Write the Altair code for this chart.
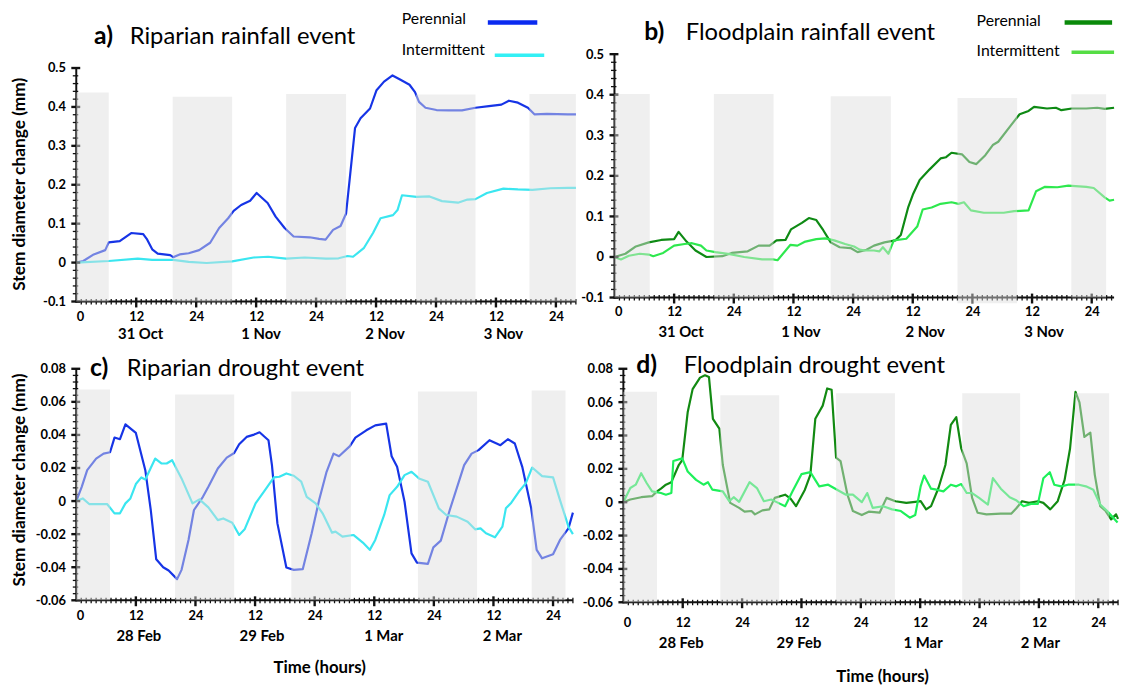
import altair as alt
import pandas as pd
import numpy as np

FONT = "Lato"

# ---------------- Panel a: Riparian rainfall event (hours, mm) ----------------
a_perennial = [(0, 0), (1.4, 0.004), (3.5, 0.021), (5.8, 0.032), (6.5, 0.052), (8.7, 0.055), (11, 0.076),
               (13.4, 0.073), (14.1, 0.061), (15.2, 0.034), (16.3, 0.023), (18.8, 0.019), (19.4, 0.014),
               (20.7, 0.021), (22.5, 0.024), (24.6, 0.032), (26.8, 0.051), (28.6, 0.089), (30.4, 0.114),
               (31.5, 0.133), (33, 0.148), (34.8, 0.159), (36.1, 0.179), (38.3, 0.153), (39.9, 0.118),
               (41.7, 0.089), (43.5, 0.067), (46.7, 0.065), (48.6, 0.061), (49.9, 0.059), (51.4, 0.084),
               (52.9, 0.094), (54, 0.126), (54.7, 0.211), (55.8, 0.346), (56.9, 0.371), (58.8, 0.396),
               (60.1, 0.443), (61.6, 0.465), (63.3, 0.481), (64.9, 0.470), (66.7, 0.457), (67.8, 0.438),
               (68.6, 0.413), (69.9, 0.398), (72.1, 0.392), (74.6, 0.391), (77.2, 0.391), (79.9, 0.398),
               (82.6, 0.402), (85.1, 0.406), (86.6, 0.416), (88.4, 0.411), (90.4, 0.398), (91.7, 0.381),
               (94.2, 0.382), (98.4, 0.381), (100, 0.381)]
a_intermittent = [(0, 0), (6.5, 0.004), (12.3, 0.010), (15.2, 0.007), (19.4, 0.007), (22.5, 0.002),
                  (26.1, -0.001), (31.2, 0.003), (35.5, 0.013), (38.4, 0.015), (42, 0.010), (45.7, 0.013),
                  (50, 0.010), (52.5, 0.011), (54.3, 0.017), (55.4, 0.015), (57.6, 0.038), (59.4, 0.076),
                  (60.9, 0.114), (63.4, 0.122), (64.3, 0.135), (65.2, 0.173), (68.1, 0.169), (70.7, 0.170),
                  (73.2, 0.158), (76.4, 0.154), (78.3, 0.162), (79.9, 0.163), (82.2, 0.179), (85.5, 0.190),
                  (88.4, 0.188), (91.3, 0.187), (94.9, 0.191), (98.4, 0.192), (100, 0.192)]
a_band_start = [0, 19.3, 42, 68, 90.7]
a_band_end = [6.5, 31.2, 54, 79.9, 100]
a_band_top = [0.437, 0.426, 0.433, 0.432, 0.433]
a_band_bottom = [-0.1, -0.1, -0.1, -0.1, -0.1]
a_dates = ["31 Oct", "1 Nov", "2 Nov", "3 Nov"]
a_date_hours = [12.9, 37, 61.8, 85.5]

# ---------------- Panel b: Floodplain rainfall event ----------------
b_perennial = [(0, 0), (2.2, 0.008), (4.3, 0.026), (6.9, 0.036), (9.4, 0.042), (12, 0.044), (12.9, 0.062),
               (14.5, 0.038), (16.3, 0.016), (18.5, 0.000), (21.7, 0.002), (23.6, 0.010), (26.8, 0.014),
               (29, 0.028), (31.2, 0.028), (32.6, 0.041), (34.4, 0.042), (35.5, 0.068), (37.7, 0.084),
               (39.1, 0.096), (40.6, 0.091), (42, 0.066), (43.5, 0.036), (45.3, 0.024), (47.5, 0.022),
               (48.9, 0.012), (50.7, 0.018), (52.2, 0.028), (54.3, 0.036), (56.5, 0.041), (57.6, 0.054),
               (59.1, 0.123), (60.1, 0.156), (61.4, 0.190), (63.4, 0.216), (65.6, 0.243), (66.7, 0.246),
               (67.8, 0.257), (69.9, 0.253), (71.4, 0.234), (72.8, 0.229), (74.6, 0.251), (76.1, 0.276),
               (77.2, 0.284), (79.7, 0.324), (81.5, 0.352), (83.3, 0.360), (84.4, 0.370), (87, 0.366),
               (88.8, 0.368), (89.9, 0.362), (92, 0.366), (94.9, 0.366), (97.1, 0.368), (98.6, 0.365),
               (100.5, 0.368)]
b_intermittent = [(0, 0), (1.3, -0.006), (2.9, 0.003), (5.1, 0.008), (6.9, 0.006), (7.8, 0.002), (9.8, 0.010),
                  (12, 0.028), (14.1, 0.032), (15.6, 0.034), (17.4, 0.028), (18.5, 0.016), (20.3, 0.012),
                  (23.2, 0.007), (26.1, 0.000), (29.7, -0.006), (31.9, -0.006), (32.8, -0.008), (35.4, 0.030),
                  (36.8, 0.028), (38.4, 0.038), (40.6, 0.044), (42.4, 0.046), (44.2, 0.041), (46.4, 0.032),
                  (48.2, 0.026), (49.3, 0.018), (50.4, 0.016), (52.2, 0.016), (53.3, 0.014), (54, 0.024),
                  (55.1, 0.008), (56.2, 0.041), (58.7, 0.045), (60.9, 0.075), (62, 0.117), (63.8, 0.122),
                  (65.6, 0.131), (67.8, 0.135), (69.2, 0.131), (70.3, 0.135), (71.7, 0.115), (74.3, 0.109),
                  (76.8, 0.109), (78.3, 0.109), (80.4, 0.113), (83.3, 0.115), (84.8, 0.162), (86.6, 0.173),
                  (89.1, 0.172), (91.3, 0.176), (94.9, 0.173), (96.4, 0.170), (98.6, 0.147), (99.6, 0.139),
                  (100.5, 0.141)]
b_band_start = [0, 20, 43.5, 69, 91.9]
b_band_end = [7.1, 32, 55.6, 81, 98.9]
b_band_top = [0.402, 0.402, 0.396, 0.392, 0.401]
b_band_bottom = [-0.1, -0.1, -0.1, -0.114, -0.1]
b_dates = ["31 Oct", "1 Nov", "2 Nov", "3 Nov"]
b_date_hours = [13.4, 37.5, 62.5, 86.4]

# ---------------- Panel c: Riparian drought event ----------------
c_perennial = [(0, 0), (1.1, 0.0086), (2.2, 0.0187), (4, 0.0257), (5.5, 0.0287), (6.8, 0.0295), (7.7, 0.0384),
               (8.8, 0.0374), (9.9, 0.0464), (12, 0.0412), (13.9, 0.0187), (15, -0.0054), (16.1, -0.0352),
               (17.5, -0.040), (18.6, -0.042), (20.3, -0.0472), (21.2, -0.0416), (22.6, -0.0235),
               (23.7, -0.0054), (25.5, 0.0026), (26.6, 0.0086), (28.5, 0.0197), (30.3, 0.0263),
               (31.8, 0.0291), (32.8, 0.0344), (34.3, 0.0388), (35.8, 0.0402), (36.9, 0.0416),
               (38.7, 0.0368), (39.4, 0.0217), (40.5, -0.0135), (42.3, -0.0402), (43.8, -0.0416),
               (45.6, -0.0412), (47.4, -0.0195), (48.9, 0.0006), (50.4, 0.0177), (51.8, 0.0287),
               (52.9, 0.0271), (55.1, 0.0332), (56.2, 0.0384), (58.4, 0.0428), (60.2, 0.0458),
               (62.4, 0.0468), (63.5, 0.0271), (64.6, 0.0207), (66.1, -0.0004), (67.5, -0.0316),
               (68.6, -0.0372), (70.8, -0.038), (71.9, -0.028), (73.4, -0.0239), (75.2, -0.0054),
               (78.1, 0.0217), (79.6, 0.0287), (81, 0.0308), (83.2, 0.0368), (85.4, 0.0338), (86.9, 0.0374),
               (88.3, 0.0348), (89.8, 0.0207), (91.6, -0.0044), (92.7, -0.0295), (93.8, -0.0346),
               (96, -0.0322), (97.4, -0.0235), (99.1, -0.0165), (100, -0.007)]
c_intermittent = [(0, 0), (1.3, 0.0016), (2.6, -0.0018), (6.2, -0.0018), (7.7, -0.0074), (8.8, -0.0074),
                  (9.9, -0.0014), (10.9, 0.0016), (12, 0.0103), (13.1, 0.0143), (13.9, 0.0131),
                  (15.9, 0.0257), (17.2, 0.0227), (18.2, 0.0227), (19.3, 0.0247), (21.2, 0.0137),
                  (23.4, -0.0014), (24.8, 0.0010), (26.6, -0.0038), (28.5, -0.0115), (29.6, -0.0105),
                  (31.4, -0.0131), (32.8, -0.0205), (33.9, -0.0171), (36.1, -0.0014), (38, 0.0066),
                  (39.8, 0.0143), (40.9, 0.0147), (42.3, 0.0167), (43.8, 0.0153), (45.3, 0.0117),
                  (46.4, 0.0026), (48.2, -0.0014), (49.6, -0.0074), (51.5, -0.0191), (52.2, -0.0185),
                  (53.6, -0.0215), (55.8, -0.0205), (57.7, -0.0251), (59.1, -0.0295), (60.2, -0.0235),
                  (62, -0.0084), (63.1, 0.0036), (64.6, 0.0086), (66.1, 0.0157), (67.5, 0.0177),
                  (69, 0.0137), (70.8, 0.0117), (73, -0.0044), (74.5, -0.0084), (76.6, -0.0094),
                  (78.8, -0.0125), (80.3, -0.0171), (81.4, -0.0165), (82.5, -0.0195), (84.3, -0.0219),
                  (85.8, -0.0155), (86.5, -0.0044), (87.6, -0.0010), (89.1, 0.0056), (90.5, 0.0107),
                  (91.8, 0.0203), (93.8, 0.0151), (96, 0.0143), (97.4, 0.0006), (99.1, -0.0155),
                  (100, -0.020)]
c_band_start = [0, 19.9, 43.3, 68.8, 91.7]
c_band_end = [6.8, 31.8, 55.3, 80.7, 98.5]
c_band_top = [0.0675, 0.0645, 0.0663, 0.0663, 0.0669]
c_band_bottom = [-0.06, -0.06, -0.06, -0.06, -0.06]
c_dates = ["28 Feb", "29 Feb", "1 Mar", "2 Mar"]
c_date_hours = [12.6, 37.4, 61.9, 85.8]

# ---------------- Panel d: Floodplain drought event ----------------
d_perennial = [(0, 0), (1.4, 0.0016), (3.6, 0.003), (5.8, 0.0036), (6.8, 0.0065), (7.6, 0.0081), (8.6, 0.0105),
               (9.7, 0.012), (11.2, 0.0223), (11.9, 0.0253), (13, 0.0539), (14, 0.0678), (15.5, 0.0747),
               (16.5, 0.0761), (17.3, 0.0751), (18.1, 0.050), (19.4, 0.0441), (20.1, 0.0223),
               (21.6, -0.0004), (23.4, -0.0034), (24.5, -0.0057), (25.9, -0.0053), (26.6, -0.0073),
               (28.1, -0.0049), (29.5, -0.0043), (30.6, 0.0026), (32.7, 0.0045), (33.8, 0.0022),
               (34.9, -0.0024), (36.7, 0.0075), (37.8, 0.0164), (38.8, 0.050), (40.3, 0.0579),
               (41.2, 0.0682), (42.1, 0.0674), (43, 0.0267), (43.9, 0.0247), (45.3, 0.0045),
               (46.4, -0.0053), (48.2, -0.0077), (49.6, -0.0057), (51.8, -0.0063), (53.2, 0.0026),
               (55, 0.0006), (57.2, -0.0004), (59, 0.0002), (60.1, 0.0006), (61.2, -0.0043),
               (62.2, -0.0024), (63.7, 0.0085), (65.1, 0.0223), (66.2, 0.0464), (67.3, 0.051),
               (68.3, 0.0322), (69.4, 0.0233), (70.5, 0.0026), (71.6, -0.0063), (73.4, -0.0073),
               (76.3, -0.0069), (78.4, -0.0069), (79.4, -0.0038), (80.6, 0.0006), (82, -0.0004),
               (83.8, 0.0006), (84.9, -0.0004), (86.3, -0.0043), (87.8, 0.0006), (89.2, 0.0134),
               (90.3, 0.0322), (91.4, 0.0662), (92.2, 0.0599), (93.2, 0.0391), (94.4, 0.0417),
               (95.3, 0.0164), (96.4, -0.0024), (97.5, -0.0053), (98.6, -0.0103), (99.6, -0.0073),
               (100, -0.010)]
d_intermittent = [(0, 0), (1.4, 0.0085), (2.5, 0.0105), (3.6, 0.0174), (4.7, 0.0115), (5.8, 0.0065),
                  (7.6, 0.0055), (8.6, 0.0045), (9.7, 0.0055), (10.1, 0.0247), (11.9, 0.0263), (13, 0.0184),
                  (14.7, 0.0134), (16.2, 0.0105), (17.1, 0.012), (18, 0.0075), (20.1, 0.0065), (21.4, 0.0006),
                  (22.3, 0.003), (23.4, 0.0002), (25.5, 0.012), (27, 0.0085), (28.4, 0.0006), (29.9, 0.0016),
                  (31.3, -0.0004), (32.7, -0.0024), (34.2, 0.0065), (36, 0.0168), (37.8, 0.018),
                  (39.6, 0.0095), (41.4, 0.0105), (43.2, 0.0075), (45, 0.0045), (46.4, 0.0045), (48.2, 0),
                  (49.3, 0.0055), (50.4, -0.0034), (52.5, -0.0024), (54.3, -0.0043), (56.1, -0.0053),
                  (57.9, -0.0093), (59, -0.0077), (60.1, 0.0095), (60.8, 0.016), (62.2, 0.0081),
                  (63.3, 0.0075), (64.7, 0.0065), (66.2, 0.0105), (67.3, 0.0095), (68.3, 0.0109),
                  (69.4, 0.0055), (70.5, 0.0055), (71.9, 0.0026), (73.7, -0.0014), (74.7, 0.0144),
                  (76.3, 0.0081), (78.1, 0.003), (79.5, 0.001), (80.9, -0.0024), (82.4, -0.001),
                  (83.8, -0.001), (84.9, 0.0144), (86.2, 0.018), (87.1, 0.0105), (88.5, 0.0095),
                  (89.9, 0.0105), (92.1, 0.0105), (93.5, 0.0095), (95, 0.0075), (96.4, -0.0014),
                  (97.8, -0.0053), (99.9, -0.0122)]
d_band_start = [0, 19.6, 43, 68.5, 91.3]
d_band_end = [6.8, 31.5, 54.9, 80.2, 98.2]
d_band_top = [0.0662, 0.0642, 0.0654, 0.0654, 0.0654]
d_band_bottom = [-0.06, -0.06, -0.06, -0.06, -0.06]
d_dates = ["28 Feb", "29 Feb", "1 Mar", "2 Mar"]
d_date_hours = [11.7, 35.5, 60.6, 84.3]

x_major = [0, 12, 24, 36, 48, 60, 72, 84, 96]
rain_y_major = [-0.1, 0, 0.1, 0.2, 0.3, 0.4, 0.5]
drought_y_major = [-0.06, -0.04, -0.02, 0, 0.02, 0.04, 0.06, 0.08]

BAND_COLOR = "#dcdcdc"
BAND_OPACITY = 0.47
AXIS_COLOR = "#111111"


def txt(text, x, y, size, weight="normal", align="left", baseline="alphabetic"):
    return alt.Chart(pd.DataFrame({"t": [text]})).mark_text(
        align=align, baseline=baseline, font=FONT, fontSize=size, fontWeight=weight, color="black"
    ).encode(x=alt.value(x), y=alt.value(y), text="t:N")


def swatch(x1, x2, y, color, width):
    return alt.Chart(pd.DataFrame({"a": [0]})).mark_rule(color=color, strokeWidth=width).encode(
        x=alt.value(x1), x2=alt.value(x2), y=alt.value(y))


def segs_to_df(segs):
    rows = []
    for i, (xa, ya, xb, yb) in enumerate(segs):
        rows.append({"id": i, "k": 0, "x": xa, "y": ya})
        rows.append({"id": i, "k": 1, "x": xb, "y": yb})
    return pd.DataFrame(rows)


def panel(per, inter, colors, bands, ydom, yaxis_top, ymajor, ystep, dec, W, H, xmax,
          letter, title, letter_dx, title_dx, title_dy, dates, date_hours, date_dy, xlab_pad,
          ytitle=None, ytitle_dy=0, legend=None, xtitle=None):
    xs = alt.Scale(domain=[0, xmax], nice=False, zero=False)
    ys = alt.Scale(domain=ydom, nice=False, zero=False)
    dx = xmax / W                      # data units per pixel
    dy = (ydom[1] - ydom[0]) / H
    y0 = ydom[0]

    xaxis = alt.Axis(values=x_major, domain=False, ticks=False, grid=False, title="",
                     labelExpr="datum.value == 0 ? '0' : (datum.value % 24 == 0 ? '24' : '12')",
                     labelFont=FONT, labelFontSize=13, labelFontWeight="bold", labelColor="black",
                     labelPadding=xlab_pad)
    ykw = dict(values=ymajor, domain=False, ticks=False, grid=False,
               labelExpr="datum.value == 0 ? '0' : (datum.value < 0 ? '-' : '') + format(abs(datum.value), '.%df')" % dec,
               labelFont=FONT, labelFontSize=13, labelFontWeight="bold", labelColor="black", labelPadding=11)
    if ytitle:
        ykw.update(title=ytitle, titleFont=FONT, titleFontSize=17.5, titleFontWeight="bold", titleColor="black",
                   titleX=-57, titleY=H / 2 + ytitle_dy, titleAngle=270, titleAlign="center",
                   titleBaseline="middle")
    else:
        ykw.update(title="")
    yaxis = alt.Axis(**ykw)

    X = lambda f: alt.X(f, scale=xs, axis=None)
    Y = lambda f: alt.Y(f, scale=ys, axis=None)

    axis_df = pd.DataFrame({"h": [0, xmax], "v": [ydom[0], ydom[1]]})
    axis_layer = alt.Chart(axis_df).mark_point(opacity=0, size=1).encode(
        x=alt.X("h:Q", scale=xs, axis=xaxis), y=alt.Y("v:Q", scale=ys, axis=yaxis))

    per_df = pd.DataFrame(per, columns=["h", "v"])
    int_df = pd.DataFrame(inter, columns=["h", "v"])
    line_per = alt.Chart(per_df).mark_line(strokeWidth=2.2, strokeJoin="round", color=colors[0]).encode(
        x=X("h:Q"), y=Y("v:Q"), order=alt.Order("h:Q"))
    line_int = alt.Chart(int_df).mark_line(strokeWidth=2.2, strokeJoin="round", color=colors[1]).encode(
        x=X("h:Q"), y=Y("v:Q"), order=alt.Order("h:Q"))

    # axis lines and ticks, drawn as short line segments through the scales
    ymin_vals = [round(v, 4) for v in np.arange(ydom[0], yaxis_top + 1e-9, ystep)
                 if min(abs(v - m) for m in ymajor) > 1e-6]
    xmin_vals = [h for h in range(1, int(xmax) + 1) if h % 12 != 0]
    axis_segs = [(0, y0 - dy, 0, yaxis_top), (-dx, y0, xmax, y0)]
    major_segs = [(-5 * dx, t, 4 * dx, t) for t in ymajor] + \
                 [(t, y0 - 6 * dy, t, y0 + 4 * dy) for t in x_major[1:]]
    minor_segs = [(-3.5 * dx, t, 2 * dx, t) for t in ymin_vals] + \
                 [(t, y0 - 3 * dy, t, y0 + 2.5 * dy) for t in xmin_vals]

    def seg_layer(segs, width):
        return alt.Chart(segs_to_df(segs)).mark_line(color=AXIS_COLOR, strokeWidth=width).encode(
            x=X("x:Q"), y=Y("y:Q"), detail="id:N", order=alt.Order("k:Q"))

    axis_lines = seg_layer(axis_segs, 2)
    major_ticks = seg_layer(major_segs, 2.4)
    minor_ticks = seg_layer(minor_segs, 1.3)

    bdf = pd.DataFrame({"s": bands[0], "e": bands[1], "t": bands[2], "b": bands[3]})
    band = alt.Chart(bdf).mark_rect(color=BAND_COLOR, opacity=BAND_OPACITY).encode(
        x=X("s:Q"), x2="e:Q", y=Y("b:Q"), y2="t:Q")

    ddf = pd.DataFrame({"h": date_hours, "label": dates})
    date_text = alt.Chart(ddf).mark_text(font=FONT, fontSize=15, fontWeight="bold", align="center",
                                         baseline="middle", color="black").encode(
        x=X("h:Q"), y=alt.value(H + date_dy), text="label:N")

    layers = [axis_layer, line_per, line_int, axis_lines, major_ticks, minor_ticks, band, date_text,
              txt(letter, letter_dx, title_dy, 25, "bold"),
              txt(title, title_dx, title_dy, 24)]
    if legend:
        for (label, tx, ty, lx1, lx2, ly, col, lw) in legend:
            layers.append(txt(label, tx, ty, 16, baseline="middle"))
            layers.append(swatch(lx1, lx2, ly, col, lw))
    if xtitle:
        layers.append(txt(xtitle[0], xtitle[1], xtitle[2], 17, "bold", align="center", baseline="middle"))
    return alt.layer(*layers).resolve_axis(x="independent", y="independent").properties(width=W, height=H)


BLUE = ["#1634e6", "#3ae6f0"]
GREEN_B = ["#0e8a14", "#2ee84e"]
GREEN_D = ["#128a12", "#1ef05a"]

pa = panel(a_perennial, a_intermittent, BLUE,
           (a_band_start, a_band_end, a_band_top, a_band_bottom),
           [-0.1, 0.5356], 0.5, rain_y_major, 0.02, 1, 505, 250, 100,
           "a)", "Riparian rainfall event", 18, 54, -10, a_dates, a_date_hours, 33, 9,
           ytitle="Stem diameter change (mm)", ytitle_dy=6,
           legend=[("Perennial", 329, -35, 416, 466, -32, "#0a2af0", 4.5),
                   ("Intermittent", 329, -4, 423, 473, 1, "#33f0f5", 3.5)])
pb = panel(b_perennial, b_intermittent, GREEN_B,
           (b_band_start, b_band_end, b_band_top, b_band_bottom),
           [-0.1, 0.5], 0.5, rain_y_major, 0.02, 1, 505, 246, 100.5,
           "b)", "Floodplain rainfall event", 30, 72, -14, b_dates, b_date_hours, 35, 8,
           legend=[("Perennial", 366, -33, 455, 503, -32, "#0a8a0a", 4.5),
                   ("Intermittent", 366, -3, 462, 505, -2, "#55dd44", 3.5)])
pc = panel(c_perennial, c_intermittent, BLUE,
           (c_band_start, c_band_end, c_band_top, c_band_bottom),
           [-0.06, 0.08], 0.08, drought_y_major, 0.004, 2, 502, 234, 100,
           "c)", "Riparian drought event", 14, 51, 7, c_dates, c_date_hours, 36, 9,
           ytitle="Stem diameter change (mm)", ytitle_dy=-5,
           xtitle=("Time (hours)", 246, 234 + 68))
pd_ = panel(d_perennial, d_intermittent, GREEN_D,
            (d_band_start, d_band_end, d_band_top, d_band_bottom),
            [-0.06, 0.08], 0.08, drought_y_major, 0.004, 2, 500, 236, 100,
            "d)", "Floodplain drought event", 13, 61, 4, d_dates, d_date_hours, 41, 14,
            xtitle=("Time (hours)", 262, 236 + 76))

row1 = alt.hconcat(pa, pb, spacing=39, bounds="flush")
row2 = alt.hconcat(pc, pd_, spacing=51, bounds="flush")
chart = alt.vconcat(row1, row2, spacing=11) \
    .configure_view(stroke=None) \
    .properties(padding={"left": 2, "top": 0, "right": 0, "bottom": 0}, background="white")

chart.save("out.html", embed_options={"renderer": "svg", "actions": False})
